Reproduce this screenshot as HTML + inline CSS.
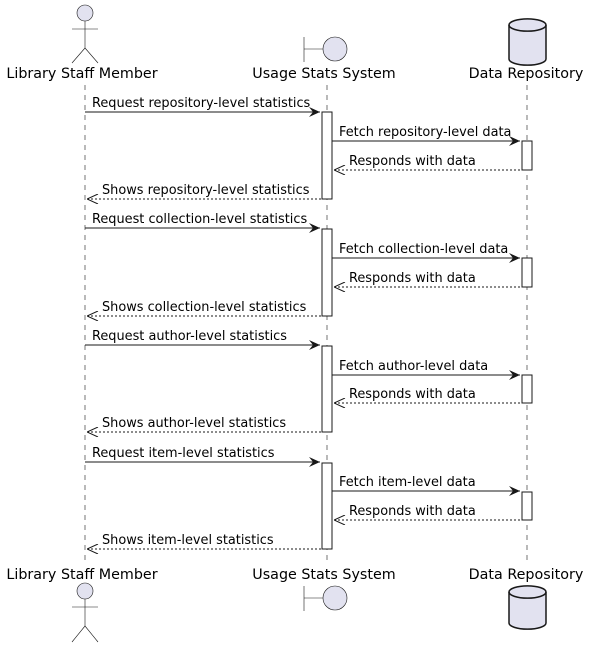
<!DOCTYPE html>
<html><head><meta charset="utf-8"><style>
html,body{margin:0;padding:0;background:#fff;}
svg{display:block;font-family:"DejaVu Sans",sans-serif;}
</style></head><body>
<svg width="589" height="647" viewBox="0 0 589 647" xmlns="http://www.w3.org/2000/svg">
<defs>
<marker id="af" markerWidth="12" markerHeight="10" refX="11" refY="5" orient="auto" markerUnits="userSpaceOnUse">
<path d="M0,0 L11,5 L0,10 L4,5 Z" fill="#181818"/></marker>
<marker id="ao" markerWidth="12" markerHeight="10" refX="0" refY="5" orient="auto" markerUnits="userSpaceOnUse">
<path d="M11,0 L0,5 L11,10" fill="none" stroke="#181818" stroke-width="1"/></marker>
</defs>
<g stroke="#181818" stroke-width="0.6" stroke-dasharray="5,5">
<line x1="85" y1="85" x2="85" y2="562"/>
<line x1="327" y1="85" x2="327" y2="562"/>
<line x1="527" y1="85" x2="527" y2="562"/>
</g>
<g fill="#E2E2F0" stroke="#181818">
<circle cx="85" cy="13" r="8" stroke-width="0.6"/>
<g stroke-width="0.6" fill="none"><line x1="85" y1="21" x2="85" y2="48"/><line x1="72" y1="29" x2="98" y2="29"/><line x1="85" y1="48" x2="72" y2="63"/><line x1="85" y1="48" x2="98" y2="63"/></g>
<line x1="304" y1="37" x2="304" y2="62" stroke-width="0.6"/><line x1="304" y1="49" x2="323" y2="49" stroke-width="0.6"/>
<circle cx="335" cy="49" r="12" stroke-width="0.6"/>
<path d="M509,25 A18,6 0 0 1 546,25 L546,59 A18,6 0 0 1 509,59 Z" stroke-width="1.5"/>
<path d="M509,25 A18,6 0 0 0 546,25" fill="none" stroke-width="1.5"/>
</g>
<g font-size="14.3" fill="#000" text-anchor="middle">
<text x="82" y="78">Library Staff Member</text>
<text x="324" y="78">Usage Stats System</text>
<text x="526" y="78">Data Repository</text>
<text x="82" y="579">Library Staff Member</text>
<text x="324" y="579">Usage Stats System</text>
<text x="526" y="579">Data Repository</text>
</g>
<g fill="#E2E2F0" stroke="#181818">
<circle cx="85" cy="591" r="8" stroke-width="0.6"/>
<g stroke-width="0.6" fill="none"><line x1="85" y1="599" x2="85" y2="626"/><line x1="72" y1="607" x2="98" y2="607"/><line x1="85" y1="626" x2="72" y2="642"/><line x1="85" y1="626" x2="98" y2="642"/></g>
<line x1="304" y1="586" x2="304" y2="611" stroke-width="0.6"/><line x1="304" y1="598" x2="323" y2="598" stroke-width="0.6"/>
<circle cx="335" cy="598" r="12" stroke-width="0.6"/>
<path d="M509,592 A18,6 0 0 1 546,592 L546,623 A18,6 0 0 1 509,623 Z" stroke-width="1.5"/>
<path d="M509,592 A18,6 0 0 0 546,592" fill="none" stroke-width="1.5"/>
</g>
<g fill="#fff" stroke="#181818" stroke-width="1">
<rect x="322" y="112" width="10" height="87"/><rect x="522" y="141" width="10" height="29"/>
<rect x="322" y="229" width="10" height="87"/><rect x="522" y="258" width="10" height="29"/>
<rect x="322" y="346" width="10" height="86"/><rect x="522" y="375" width="10" height="28"/>
<rect x="322" y="463" width="10" height="86"/><rect x="522" y="492" width="10" height="28"/>
</g>
<g stroke="#181818" stroke-width="1" fill="none">
<line x1="85" y1="112" x2="320" y2="112" marker-end="url(#af)"/>
<line x1="332" y1="141" x2="520" y2="141" marker-end="url(#af)"/>
<line x1="334" y1="170" x2="522" y2="170" stroke-dasharray="2,2" marker-start="url(#ao)"/>
<line x1="87" y1="199" x2="322" y2="199" stroke-dasharray="2,2" marker-start="url(#ao)"/>
<line x1="85" y1="228" x2="320" y2="228" marker-end="url(#af)"/>
<line x1="332" y1="258" x2="520" y2="258" marker-end="url(#af)"/>
<line x1="334" y1="287" x2="522" y2="287" stroke-dasharray="2,2" marker-start="url(#ao)"/>
<line x1="87" y1="316" x2="322" y2="316" stroke-dasharray="2,2" marker-start="url(#ao)"/>
<line x1="85" y1="345" x2="320" y2="345" marker-end="url(#af)"/>
<line x1="332" y1="375" x2="520" y2="375" marker-end="url(#af)"/>
<line x1="334" y1="403" x2="522" y2="403" stroke-dasharray="2,2" marker-start="url(#ao)"/>
<line x1="87" y1="432" x2="322" y2="432" stroke-dasharray="2,2" marker-start="url(#ao)"/>
<line x1="85" y1="462" x2="320" y2="462" marker-end="url(#af)"/>
<line x1="332" y1="491" x2="520" y2="491" marker-end="url(#af)"/>
<line x1="334" y1="520" x2="522" y2="520" stroke-dasharray="2,2" marker-start="url(#ao)"/>
<line x1="87" y1="549" x2="322" y2="549" stroke-dasharray="2,2" marker-start="url(#ao)"/>
</g>
<g font-size="12.9" fill="#000">
<text x="92" y="107">Request repository-level statistics</text>
<text x="339" y="136">Fetch repository-level data</text>
<text x="349" y="165">Responds with data</text>
<text x="102" y="194">Shows repository-level statistics</text>
<text x="92" y="223">Request collection-level statistics</text>
<text x="339" y="253">Fetch collection-level data</text>
<text x="349" y="282">Responds with data</text>
<text x="102" y="311">Shows collection-level statistics</text>
<text x="92" y="340">Request author-level statistics</text>
<text x="339" y="370">Fetch author-level data</text>
<text x="349" y="398">Responds with data</text>
<text x="102" y="427">Shows author-level statistics</text>
<text x="92" y="457">Request item-level statistics</text>
<text x="339" y="486">Fetch item-level data</text>
<text x="349" y="515">Responds with data</text>
<text x="102" y="544">Shows item-level statistics</text>
</g>
</svg>
</body></html>
